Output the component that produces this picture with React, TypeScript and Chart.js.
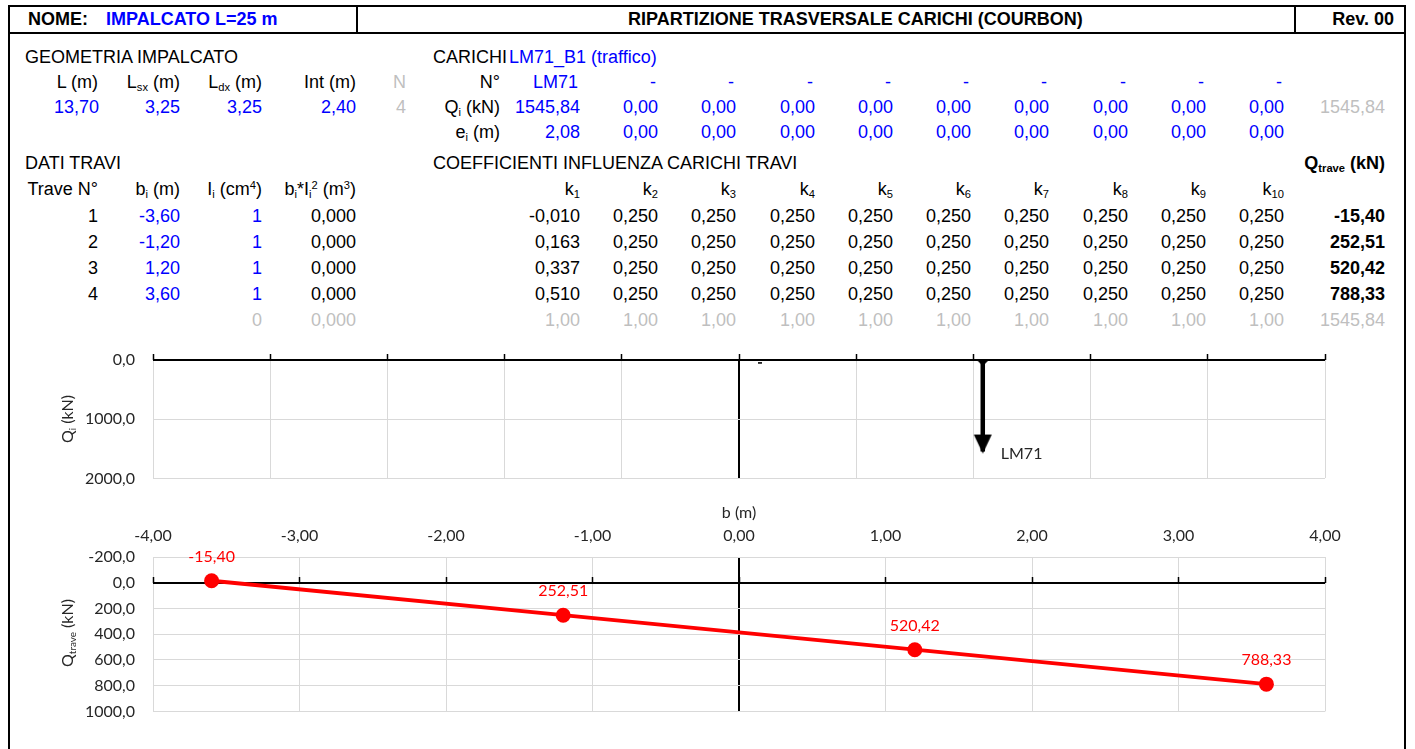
import React, { useEffect, useRef } from 'react';
import { Chart, registerables } from 'chart.js';

Chart.register(...registerables);

// ---------------- data ----------------
const projectName = 'IMPALCATO L=25 m';
const sheetTitle = 'RIPARTIZIONE TRASVERSALE CARICHI (COURBON)';
const revision = 'Rev. 00';
const deckL = 13.7;
const deckLsx = 3.25;
const deckLdx = 3.25;
const deckInt = 2.4;
const beamCount = 4;
const loadCase = 'LM71_B1 (traffico)';
const loadNames = ['LM71', '-', '-', '-', '-', '-', '-', '-', '-', '-'];
const loadQ = [1545.84, 0, 0, 0, 0, 0, 0, 0, 0, 0];
const loadE = [2.08, 0, 0, 0, 0, 0, 0, 0, 0, 0];
const loadQTotal = 1545.84;
const beamNo = [1, 2, 3, 4];
const beamB = [-3.6, -1.2, 1.2, 3.6];
const beamI = [1, 1, 1, 1];
const beamBI2 = [0, 0, 0, 0];
const kBeam1 = [-0.01, 0.25, 0.25, 0.25, 0.25, 0.25, 0.25, 0.25, 0.25, 0.25];
const kBeam2 = [0.163, 0.25, 0.25, 0.25, 0.25, 0.25, 0.25, 0.25, 0.25, 0.25];
const kBeam3 = [0.337, 0.25, 0.25, 0.25, 0.25, 0.25, 0.25, 0.25, 0.25, 0.25];
const kBeam4 = [0.51, 0.25, 0.25, 0.25, 0.25, 0.25, 0.25, 0.25, 0.25, 0.25];
const kBeams = [kBeam1, kBeam2, kBeam3, kBeam4];
const beamQ = [-15.4, 252.51, 520.42, 788.33];
const sumI = 0;
const sumBI2 = 0;
const kSums = [1, 1, 1, 1, 1, 1, 1, 1, 1, 1];
const sumQ = 1545.84;
const loadXTicks = [-5, -4, -3, -2, -1, 0, 1, 2, 3, 4, 5];
const loadYTicks = [0, 1000, 2000];
const beamXTicks = [-4, -3, -2, -1, 0, 1, 2, 3, 4];
const beamYTicks = [-200, 0, 200, 400, 600, 800, 1000];

// ---------------- styling ----------------
const BLUE = '#0000FF';
const GREY = '#BFBFBF';
const TXT = '#262626';
const GRID = '#D9D9D9';
const TABLE_FONT = '"Liberation Sans", Arial, sans-serif';
const CHART_FONT = 'Lato, "Open Sans", sans-serif';

const fmt = (v: number, d: number) => v.toFixed(d).replace('.', ',');

// column right edges (layout)
const cA = 98, cB = 180, cC = 262, cD = 356, cE = 406, cF = 500, cQ = 1385;
const kCols = [580, 658, 736, 815, 893, 971, 1049, 1128, 1206, 1284];

function Txt(props: any) {
  const { x, y, children, align = 'right', color = '#000', bold = false, size = 18, w = 400, font = TABLE_FONT } = props;
  const style: React.CSSProperties = {
    position: 'absolute', top: y - 12, height: 24, lineHeight: '24px', whiteSpace: 'nowrap',
    color, fontWeight: bold ? 700 : 400, fontSize: size, fontFamily: font, width: w, textAlign: align,
  };
  if (align === 'right') style.left = x - w;
  else if (align === 'left') style.left = x;
  else style.left = x - w / 2;
  return <div style={style}>{children}</div>;
}
const Sub = ({ children }: any) => (
  <span style={{ fontSize: '0.62em', position: 'relative', top: '0.3em' }}>{children}</span>
);
const Sup = ({ children }: any) => (
  <span style={{ fontSize: '0.62em', position: 'relative', top: '-0.55em' }}>{children}</span>
);

const gridColor = (c: any) => (c.tick && c.tick.value === 0 ? '#000' : GRID);
const gridWidth = (c: any) => (c.tick && c.tick.value === 0 ? 2 : 1);
const setTicks = (arr: number[]) => (s: any) => {
  s.ticks = arr.map((v) => ({ value: v }));
};

function makeArrowHead(): HTMLCanvasElement {
  const c = document.createElement('canvas');
  c.width = 20;
  c.height = 40;
  const g = c.getContext('2d')!;
  g.fillStyle = '#000';
  g.beginPath();
  g.moveTo(1, 3);
  g.lineTo(19, 3);
  g.lineTo(10, 22);
  g.closePath();
  g.fill();
  return c;
}
function makeTail(): HTMLCanvasElement {
  const c = document.createElement('canvas');
  c.width = 12;
  c.height = 14;
  const g = c.getContext('2d')!;
  g.fillStyle = '#000';
  g.beginPath();
  g.moveTo(0, 7);
  g.lineTo(12, 7);
  g.lineTo(6, 13);
  g.closePath();
  g.fill();
  return c;
}

const loadLabelPlugin = {
  id: 'loadLabels',
  afterDatasetsDraw(chart: any) {
    const { ctx } = chart;
    ctx.save();
    ctx.font = `16px ${CHART_FONT}`;
    ctx.fillStyle = TXT;
    ctx.textAlign = 'left';
    ctx.textBaseline = 'middle';
    chart.data.datasets.forEach((ds: any, i: number) => {
      const meta = chart.getDatasetMeta(i);
      const p = meta.data[meta.data.length - 1];
      if (p) ctx.fillText(ds.label, p.x + 18, p.y + 2);
    });
    ctx.restore();
  },
};

const beamLabelPlugin = {
  id: 'beamLabels',
  afterDatasetsDraw(chart: any) {
    const { ctx } = chart;
    ctx.save();
    ctx.font = `16px ${CHART_FONT}`;
    ctx.fillStyle = '#FF0000';
    ctx.textAlign = 'center';
    ctx.textBaseline = 'middle';
    const meta = chart.getDatasetMeta(0);
    meta.data.forEach((p: any, i: number) => {
      ctx.fillText(fmt(beamQ[i], 2), p.x, p.y - 24);
    });
    ctx.restore();
  },
};

function LoadChart() {
  const ref = useRef<HTMLCanvasElement>(null);
  useEffect(() => {
    const arrow = makeArrowHead();
    const tail = makeTail();
    const datasets = loadNames.map((name, i) => ({
      type: 'line',
      label: name,
      data: [
        { x: loadE[i], y: 0 },
        { x: loadE[i], y: loadQ[i] },
      ],
      borderColor: '#000',
      borderWidth: 4.5,
      borderCapStyle: 'butt',
      pointStyle: [tail, arrow],
      pointRadius: [loadQ[i] > 0 ? 4 : 0, loadQ[i] > 0 ? 8 : 0],
      pointHoverRadius: 0,
      clip: false,
    }));
    const chart = new Chart(ref.current!, {
      type: 'line',
      data: { datasets: datasets as any },
      options: {
        animation: false,
        responsive: false,
        events: [],
        layout: { padding: { left: 0, right: 90, top: 30, bottom: 18 } },
        plugins: { legend: { display: false }, tooltip: { enabled: false } },
        scales: {
          x: {
            type: 'linear', min: -5, max: 5,
            afterBuildTicks: setTicks(loadXTicks),
            ticks: { display: false },
            grid: { color: gridColor, lineWidth: gridWidth, drawTicks: false },
            border: { display: false },
          },
          xz: {
            type: 'linear', min: -5, max: 5, position: { y: 0 } as any,
            afterBuildTicks: setTicks(loadXTicks),
            ticks: { display: false },
            grid: { drawOnChartArea: false, drawTicks: true, tickLength: -6, tickColor: '#000', tickWidth: 1.5 },
            border: { display: false },
          },
          y: {
            type: 'linear', reverse: true, min: 0, max: 2000,
            afterBuildTicks: setTicks(loadYTicks),
            afterFit: (s: any) => { s.width = 153; },
            ticks: { padding: 18, color: TXT, font: { family: CHART_FONT, size: 16 }, callback: (v: any) => fmt(Number(v), 1) },
            grid: { color: gridColor, lineWidth: gridWidth, drawTicks: false },
            border: { display: false },
          },
        } as any,
      },
      plugins: [loadLabelPlugin],
    });
    return () => chart.destroy();
  }, []);
  return <canvas ref={ref} width={1415} height={176} style={{ position: 'absolute', left: 0, top: 330 }} />;
}

function BeamChart() {
  const ref = useRef<HTMLCanvasElement>(null);
  useEffect(() => {
    const chart = new Chart(ref.current!, {
      type: 'line',
      data: {
        datasets: [
          {
            label: 'Qtrave',
            data: beamB.map((b, i) => ({ x: b, y: beamQ[i] })),
            borderColor: '#FF0000',
            borderWidth: 3.8,
            pointRadius: 7.5,
            pointBackgroundColor: '#FF0000',
            pointBorderColor: '#FF0000',
            pointBorderWidth: 0,
            pointHoverRadius: 7.5,
            tension: 0,
            clip: false,
          } as any,
        ],
      },
      options: {
        animation: false,
        responsive: false,
        events: [],
        layout: { padding: { left: 0, right: 90, top: 0, bottom: 24 } },
        plugins: { legend: { display: false }, tooltip: { enabled: false } },
        scales: {
          x: {
            type: 'linear', position: 'top', min: -4, max: 4,
            afterBuildTicks: setTicks(beamXTicks),
            afterFit: (s: any) => { s.height = 67; },
            ticks: { padding: 12, color: TXT, font: { family: CHART_FONT, size: 16 }, maxRotation: 0, callback: (v: any) => fmt(Number(v), 2) },
            title: { display: true, text: 'b (m)', color: TXT, font: { family: CHART_FONT, size: 16 }, padding: { top: 13, bottom: 0 } },
            grid: { color: gridColor, lineWidth: gridWidth, drawTicks: false },
            border: { display: false },
          },
          xz: {
            type: 'linear', min: -4, max: 4, position: { y: 0 } as any,
            afterBuildTicks: setTicks(beamXTicks),
            ticks: { display: false },
            grid: { drawOnChartArea: false, drawTicks: true, tickLength: -6, tickColor: '#000', tickWidth: 1.5 },
            border: { display: false },
          },
          y: {
            type: 'linear', reverse: true, min: -200, max: 1000,
            afterBuildTicks: setTicks(beamYTicks),
            afterFit: (s: any) => { s.width = 153; },
            ticks: { padding: 18, color: TXT, font: { family: CHART_FONT, size: 16 }, callback: (v: any) => fmt(Number(v), 1) },
            grid: { color: gridColor, lineWidth: gridWidth, drawTicks: false },
            border: { display: false },
          },
        } as any,
      },
      plugins: [beamLabelPlugin],
    });
    return () => chart.destroy();
  }, []);
  return <canvas ref={ref} width={1415} height={249} style={{ position: 'absolute', left: 0, top: 490 }} />;
}

const Line = ({ x, y, w, h }: any) => (
  <div style={{ position: 'absolute', left: x, top: y, width: w, height: h, background: '#000' }} />
);

const RotTitle = ({ x, y, children }: any) => (
  <div
    style={{
      position: 'absolute', left: x, top: y, transform: 'translate(-50%, -50%) rotate(-90deg)',
      fontFamily: CHART_FONT, fontSize: 16, color: TXT, whiteSpace: 'nowrap', lineHeight: '20px',
    }}
  >
    {children}
  </div>
);

export default function App() {
  const yTop = { gTitle: 57, gHead: 82, gVal: 107, ecc: 132 };
  const yBot = { tTitle: 163, tHead: 189, rows: [216, 242, 268, 294], sum: 320 };
  return (
    <div style={{ position: 'absolute', left: 0, top: 0, width: 1415, height: 749, overflow: 'hidden', background: '#fff' }}>
      {/* frame */}
      <Line x={8} y={5} w={1398} h={2} />
      <Line x={8} y={5} w={2} h={760} />
      <Line x={1404} y={5} w={2} h={760} />
      <Line x={8} y={32} w={1398} h={2} />
      <Line x={356} y={5} w={2} h={29} />
      <Line x={1294} y={5} w={2} h={29} />

      {/* header */}
      <Txt x={28} y={19} align="left" bold>NOME:</Txt>
      <Txt x={106} y={19} align="left" bold color={BLUE}>{projectName}</Txt>
      <Txt x={628} y={19} align="left" bold>{sheetTitle}</Txt>
      <Txt x={1394} y={19} bold>{revision}</Txt>

      {/* geometry */}
      <Txt x={25} y={yTop.gTitle} align="left">GEOMETRIA IMPALCATO</Txt>
      <Txt x={cA} y={yTop.gHead}>L (m)</Txt>
      <Txt x={cB} y={yTop.gHead}>L<Sub>sx</Sub> (m)</Txt>
      <Txt x={cC} y={yTop.gHead}>L<Sub>dx</Sub> (m)</Txt>
      <Txt x={cD} y={yTop.gHead}>Int (m)</Txt>
      <Txt x={cE} y={yTop.gHead} color={GREY}>N</Txt>
      <Txt x={cA + 1} y={yTop.gVal} color={BLUE}>{fmt(deckL, 2)}</Txt>
      <Txt x={cB} y={yTop.gVal} color={BLUE}>{fmt(deckLsx, 2)}</Txt>
      <Txt x={cC} y={yTop.gVal} color={BLUE}>{fmt(deckLdx, 2)}</Txt>
      <Txt x={cD} y={yTop.gVal} color={BLUE}>{fmt(deckInt, 2)}</Txt>
      <Txt x={cE} y={yTop.gVal} color={GREY}>{beamCount}</Txt>

      {/* loads */}
      <Txt x={433} y={yTop.gTitle} align="left">CARICHI</Txt>
      <Txt x={509} y={yTop.gTitle} align="left" color={BLUE}>{loadCase}</Txt>
      <Txt x={cF} y={yTop.gHead}>N°</Txt>
      <Txt x={cF} y={yTop.gVal}>Q<Sub>i</Sub> (kN)</Txt>
      <Txt x={cF} y={yTop.ecc}>e<Sub>i</Sub> (m)</Txt>
      {loadNames.map((n, i) => (
        <Txt key={'n' + i} x={kCols[i] - 2} y={yTop.gHead} color={BLUE}>{n}</Txt>
      ))}
      {loadQ.map((q, i) => (
        <Txt key={'q' + i} x={kCols[i]} y={yTop.gVal} color={BLUE}>{fmt(q, 2)}</Txt>
      ))}
      {loadE.map((e, i) => (
        <Txt key={'e' + i} x={kCols[i]} y={yTop.ecc} color={BLUE}>{fmt(e, 2)}</Txt>
      ))}
      <Txt x={cQ} y={yTop.gVal} color={GREY}>{fmt(loadQTotal, 2)}</Txt>

      {/* beams */}
      <Txt x={25} y={yBot.tTitle} align="left">DATI TRAVI</Txt>
      <Txt x={433} y={yBot.tTitle} align="left">COEFFICIENTI INFLUENZA CARICHI TRAVI</Txt>
      <Txt x={cQ} y={yBot.tTitle} bold>Q<Sub>trave</Sub> (kN)</Txt>
      <Txt x={cA} y={yBot.tHead}>Trave N°</Txt>
      <Txt x={cB} y={yBot.tHead}>b<Sub>i</Sub> (m)</Txt>
      <Txt x={cC} y={yBot.tHead}>I<Sub>i</Sub> (cm<Sup>4</Sup>)</Txt>
      <Txt x={cD} y={yBot.tHead}>b<Sub>i</Sub>*I<Sub>i</Sub><Sup>2</Sup> (m<Sup>3</Sup>)</Txt>
      {kCols.map((x, i) => (
        <Txt key={'k' + i} x={x} y={yBot.tHead}>k<Sub>{i + 1}</Sub></Txt>
      ))}
      {beamNo.map((n, r) => (
        <React.Fragment key={'r' + r}>
          <Txt x={cA} y={yBot.rows[r]}>{n}</Txt>
          <Txt x={cB} y={yBot.rows[r]} color={BLUE}>{fmt(beamB[r], 2)}</Txt>
          <Txt x={cC} y={yBot.rows[r]} color={BLUE}>{beamI[r]}</Txt>
          <Txt x={cD} y={yBot.rows[r]}>{fmt(beamBI2[r], 3)}</Txt>
          {kBeams[r].map((k, j) => (
            <Txt key={'k' + j} x={kCols[j]} y={yBot.rows[r]}>{fmt(k, 3)}</Txt>
          ))}
          <Txt x={cQ} y={yBot.rows[r]} bold>{fmt(beamQ[r], 2)}</Txt>
        </React.Fragment>
      ))}
      <Txt x={cC} y={yBot.sum} color={GREY}>{sumI}</Txt>
      <Txt x={cD} y={yBot.sum} color={GREY}>{fmt(sumBI2, 3)}</Txt>
      {kSums.map((k, j) => (
        <Txt key={'s' + j} x={kCols[j]} y={yBot.sum} color={GREY}>{fmt(k, 2)}</Txt>
      ))}
      <Txt x={cQ} y={yBot.sum} color={GREY}>{fmt(sumQ, 2)}</Txt>

      {/* charts */}
      <LoadChart />
      <BeamChart />
      <RotTitle x={68} y={419}>Q<Sub>i</Sub> (kN)</RotTitle>
      <RotTitle x={68} y={633}>Q<Sub>trave</Sub> (kN)</RotTitle>
    </div>
  );
}
